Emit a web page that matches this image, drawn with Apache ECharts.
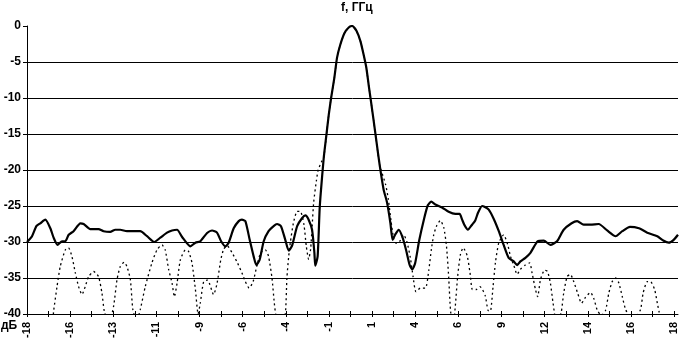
<!DOCTYPE html>
<html>
<head>
<meta charset="utf-8">
<script src="https://cdn.jsdelivr.net/npm/echarts@6/dist/echarts.min.js"></script>
<style>html,body{margin:0;padding:0;background:#fff}#c{width:680px;height:342px}</style>
</head>
<body>
<div id="c"></div>
<script>
// x tick labels (every 2nd tick, step 2.4 in axis units)
var tickLabels = ['-18','-16','-13','-11','-9','-6','-4','-1','1','4','6','9','12','14','16','18'];
var yTicks = [0,-5,-10,-15,-20,-25,-30,-35,-40];

// solid curve
var solidX = [-18.00,-17.72,-17.48,-17.26,-16.98,-16.70,-16.52,-16.30,-16.05,-15.87,-15.68,-15.41,-15.03,-14.85,-14.48,-14.02,-13.74,-13.37,-13.09,-12.81,-12.44,-12.07,-11.70,-11.32,-10.92,-10.58,-10.21,-9.93,-9.65,-9.37,-8.91,-8.63,-8.36,-7.98,-7.70,-7.43,-7.20,-6.96,-6.78,-6.50,-6.22,-6.04,-5.85,-5.61,-5.39,-5.24,-5.06,-4.83,-4.56,-4.28,-4.09,-3.87,-3.63,-3.44,-3.25,-2.97,-2.70,-2.51,-2.33,-2.14,-2.01,-1.96,-1.83,-1.72,-1.65,-1.49,-1.34,-1.21,-1.08,-0.90,-0.75,-0.57,-0.34,-0.10,0.10,0.33,0.55,0.73,0.88,1.01,1.14,1.29,1.44,1.62,1.84,2.03,2.22,2.34,2.50,2.68,2.87,3.08,3.29,3.43,3.59,3.82,4.08,4.30,4.49,4.72,5.09,5.46,5.83,6.07,6.21,6.33,6.53,6.76,6.94,7.10,7.32,7.45,7.69,7.97,8.25,8.52,8.80,9.08,9.27,9.45,9.73,10.01,10.41,10.75,11.12,11.49,11.86,12.30,12.61,12.97,13.35,13.81,14.28,14.75,15.12,15.55,16.05,16.51,17.07,17.40,17.71,17.98,18.22];
var solidY = [-30.0,-29.2,-27.8,-27.4,-26.9,-28.1,-29.4,-30.4,-29.9,-29.9,-29.0,-28.5,-27.4,-27.5,-28.2,-28.2,-28.5,-28.6,-28.3,-28.3,-28.5,-28.5,-28.5,-29.2,-30.0,-29.4,-28.7,-28.4,-28.3,-29.3,-30.6,-30.1,-29.9,-28.75,-28.4,-28.7,-29.9,-30.6,-30.1,-28.1,-27.1,-26.9,-27.1,-29.7,-32.0,-33.2,-32.5,-29.9,-28.5,-27.8,-27.5,-27.8,-29.7,-31.2,-30.5,-27.8,-26.7,-26.3,-26.9,-28.3,-31.5,-33.3,-32.0,-25.5,-23.0,-18.3,-15.1,-12.3,-10.0,-7.2,-4.4,-2.6,-1.0,-0.2,0,-0.65,-2.1,-4.0,-5.8,-8.2,-10.5,-13.2,-16.0,-19.3,-22.7,-24.5,-27.4,-29.7,-28.9,-28.3,-29.2,-31.0,-33.2,-33.8,-33.0,-29.8,-26.9,-24.9,-24.4,-24.8,-25.2,-25.8,-26.1,-26.1,-26.9,-27.6,-28.3,-27.6,-27.0,-25.9,-25.0,-25.1,-25.5,-26.8,-28.5,-30.4,-32.2,-32.7,-33.2,-32.7,-32.2,-31.5,-29.9,-29.8,-30.4,-29.9,-28.3,-27.4,-27.1,-27.6,-27.6,-27.5,-28.4,-29.2,-28.5,-27.9,-28.1,-28.7,-29.2,-29.8,-30.1,-29.7,-29.0];

// dotted curve
var dottedX = [-18.00,-16.60,-16.52,-16.33,-16.15,-15.87,-15.69,-15.50,-15.31,-15.13,-14.94,-14.76,-14.57,-14.29,-14.02,-13.83,-13.70,-13.45,-13.18,-12.99,-12.81,-12.59,-12.44,-12.25,-12.11,-11.90,-11.70,-11.42,-11.05,-10.77,-10.49,-10.31,-10.12,-9.93,-9.80,-9.65,-9.47,-9.19,-9.01,-8.82,-8.63,-8.48,-8.36,-8.17,-7.95,-7.62,-7.43,-7.22,-7.06,-6.87,-6.59,-6.31,-6.04,-5.85,-5.64,-5.42,-5.20,-5.00,-4.74,-4.56,-4.37,-4.24,-4.15,-3.90,-3.63,-3.54,-3.44,-3.35,-3.18,-2.97,-2.77,-2.59,-2.46,-2.33,-2.22,-2.14,-2.05,-1.90,-1.80,-1.60,-1.49,-1.34,-1.21,-1.08,-0.90,-0.75,-0.57,-0.34,-0.10,0.10,0.33,0.55,0.73,0.88,1.01,1.14,1.29,1.44,1.62,1.95,2.10,2.25,2.40,2.55,2.77,2.96,3.14,3.33,3.48,3.64,3.89,4.17,4.35,4.50,4.63,4.80,5.00,5.19,5.34,5.46,5.56,5.70,5.83,5.96,6.11,6.27,6.49,6.65,6.78,7.00,7.20,7.32,7.50,7.65,7.78,7.93,8.06,8.25,8.52,8.75,8.90,9.08,9.27,9.45,9.73,9.97,10.10,10.29,10.41,10.57,10.80,10.96,11.12,11.27,11.45,11.71,11.86,12.05,12.23,12.42,12.65,12.85,13.07,13.35,13.53,13.72,13.95,14.19,14.37,14.56,14.75,14.93,15.12,15.31,15.70,16.13,16.28,16.51,16.69,16.92,17.07,17.16,17.40,18.22];
var dottedY = [-44,-41,-39.6,-36.2,-33.4,-31.1,-30.8,-32.0,-34.3,-36.2,-37.3,-36.2,-34.8,-34.1,-34.8,-37.1,-39.6,-41.5,-38.9,-35.2,-33.4,-32.8,-33.4,-35.2,-39.4,-41,-39.4,-36.2,-32.9,-31.1,-30.4,-31.1,-33.8,-35.7,-37.6,-35.7,-32.5,-31.1,-31.3,-32.9,-36.6,-40.0,-38.5,-35.5,-35.3,-37.3,-35.8,-32.5,-31.0,-30.5,-31.5,-32.8,-34.3,-35.5,-36.4,-35.5,-33.2,-31.5,-31.1,-32.0,-35.0,-38.5,-40.2,-42,-40.0,-35.0,-32.0,-30.1,-27.4,-25.75,-25.8,-27.6,-30.6,-32.4,-31.0,-28.0,-24.5,-21.5,-20.0,-18.8,-18.3,-15.1,-12.3,-10.0,-7.2,-4.4,-2.6,-1.0,-0.2,0,-0.65,-2.1,-4.0,-5.8,-8.2,-10.5,-13.2,-16.0,-19.3,-22.0,-24.0,-27.0,-29.5,-30.2,-29.8,-29.0,-30.0,-32.2,-34.8,-36.9,-36.4,-36.4,-34.0,-31.0,-29.0,-27.7,-27.0,-28.0,-30.6,-34.8,-39.4,-42,-38.9,-34.8,-31.8,-30.8,-31.9,-34.3,-36.6,-36.6,-36.2,-36.5,-37.5,-39.5,-39.6,-36.2,-32.9,-30.1,-29.0,-30.4,-32.0,-33.2,-34.5,-33.8,-33.2,-32.9,-34.3,-36.6,-37.6,-35.2,-33.9,-34.1,-35.7,-38.5,-41,-39.9,-37.1,-34.8,-34.5,-35.5,-37.2,-38.5,-37.7,-37.0,-37.8,-39.4,-40.2,-39.5,-37.1,-35.5,-35.0,-35.7,-37.6,-39.4,-41,-39.4,-37.1,-35.5,-35.5,-36.6,-38.5,-39.6,-42,-44];

function pairs(xs, ys){ var o=[]; for(var i=0;i<xs.length;i++) o.push([xs[i], ys[i]]); return o; }

var tickVals = [], labelVals = [];
for (var i=0;i<=30;i++){ tickVals.push(Math.round((-18 + 1.2*i)*100)/100); }
for (var j=0;j<tickLabels.length;j++){ labelVals.push(Math.round((-18 + 2.4*j)*100)/100); }

var FONT = 'Liberation Sans';
var chart = echarts.init(document.getElementById('c'), null, {renderer:'canvas'});
chart.setOption({
  animation:false,
  backgroundColor:'#ffffff',
  grid:{left:27, right:2, top:26, bottom:28, containLabel:false},
  graphic:[
    {type:'text', left:341, top:2, style:{text:'f, ГГц', font:'bold 12px "Liberation Sans"', fill:'#000'}},
    {type:'text', left:1, top:320, style:{text:'дБ', font:'bold 12px "Liberation Sans"', fill:'#000'}}
  ],
  xAxis:[{
    type:'value', min:-18, max:18.22,
    axisLine:{show:true, onZero:false, lineStyle:{color:'#000', width:1}},
    axisTick:{show:true, length:3, customValues:tickVals, lineStyle:{color:'#000'}},
    axisLabel:{show:true, rotate:90, margin:8, customValues:labelVals, color:'#000', fontFamily:FONT, fontWeight:'bold', fontSize:11,
      formatter:function(v){ var k=Math.round((v+18)/2.4); return tickLabels[k]!==undefined?tickLabels[k]:''; }},
    splitLine:{show:false}
  },{
    type:'value', min:-18, max:18.22, position:'bottom',
    axisLine:{show:false, onZero:false},
    axisTick:{show:true, inside:true, length:3, customValues:tickVals, lineStyle:{color:'#000'}},
    axisLabel:{show:false},
    splitLine:{show:false}
  }],
  yAxis:{
    type:'value', min:-40, max:0, interval:5,
    axisLine:{show:true, onZero:false, lineStyle:{color:'#000', width:1}},
    axisTick:{show:true, length:4, lineStyle:{color:'#000'}},
    axisLabel:{color:'#000', fontFamily:FONT, fontWeight:'bold', fontSize:12, margin:6,
      formatter:function(v){ return yTicks.indexOf(v)>=0 ? String(v) : ''; }},
    splitLine:{show:true, lineStyle:{color:['#000','#000','#000','#000','#000','#000','#000','#000','rgba(0,0,0,0)'], width:1}}
  },
  series:[
    {type:'line', xAxisIndex:0, data:pairs(dottedX, dottedY), showSymbol:false, smooth:0.2, clip:true,
      lineStyle:{color:'#000', width:1.3, type:[2,3]}},
    {type:'line', xAxisIndex:0, data:pairs(solidX, solidY), showSymbol:false, smooth:0.2, clip:true,
      lineStyle:{color:'#000', width:2.2, type:'solid'}}
  ]
});
</script>
</body>
</html>
